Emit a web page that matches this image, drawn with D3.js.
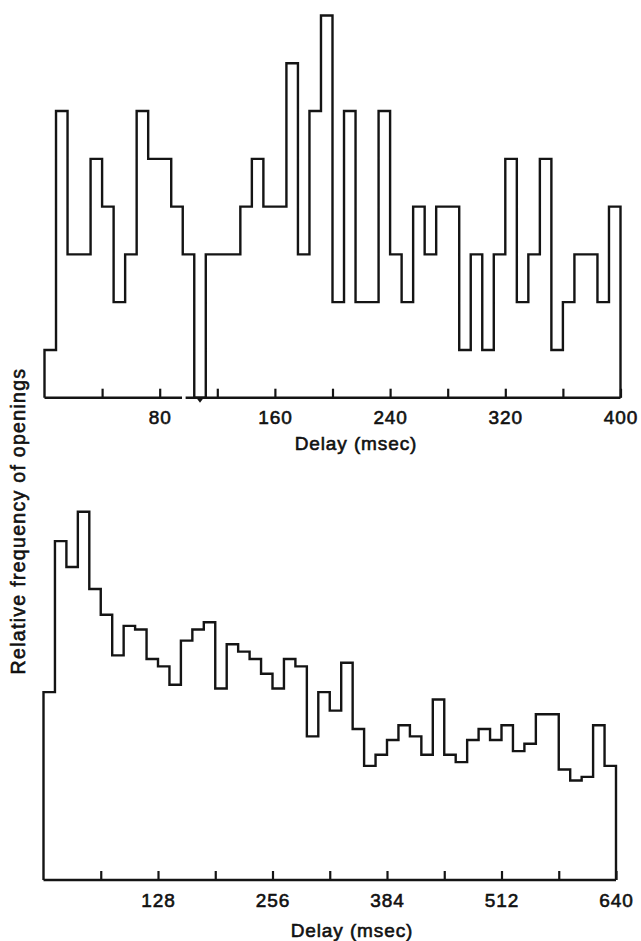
<!DOCTYPE html>
<html>
<head>
<meta charset="utf-8">
<script src="https://cdn.jsdelivr.net/npm/d3@7/dist/d3.min.js"></script>
<style>
  html, body { margin: 0; padding: 0; background: #fff; }
  svg { display: block; }
  text { font-family: "Liberation Sans", Arial, Helvetica, sans-serif; fill: #111; stroke: #111; stroke-width: 0.6px; }
</style>
</head>
<body>
<svg id="chart" width="641" height="941"></svg>
<script>
// ---------- DATA ----------
// Top histogram: 50 bins of 8 msec, 0–400 msec (relative counts)
const topBinWidth = 8;
const topCounts = [1, 6, 3, 3, 5, 4, 2, 3, 6, 5,
                   5, 4, 3, 0, 3, 3, 3, 4, 5, 4,
                   4, 7, 3, 6, 8, 2, 6, 2, 2, 6,
                   3, 2, 4, 3, 4, 4, 1, 3, 1, 3,
                   5, 2, 3, 5, 1, 2, 3, 3, 2, 4];
const topTicks = [40, 80, 120, 160, 200, 240, 280, 320, 360, 400];
const topTickLabels = [80, 160, 240, 320, 400];
const topAxisBreak = [95.5, 98];   // small break in the drawn baseline (msec)
const topZeroMarkBin = 13;         // bin marked by a small arrow under the axis

// Bottom histogram: 50 bins of 12.8 msec, 0–640 msec (relative frequency, max = 100)
const bottomBinWidth = 12.8;
const bottomValues = [51, 92, 85, 100, 79, 72, 61, 69, 68, 60,
                      58, 53, 65, 68, 70, 52, 64, 62, 60, 56,
                      52, 60, 58, 39, 51, 46, 59, 41, 31, 34,
                      38, 42, 39, 34, 49, 34, 32, 38, 41, 38,
                      42, 35, 37, 45, 45, 30, 27, 28, 42, 31];
const bottomTicks = [64, 128, 192, 256, 320, 384, 448, 512, 576, 640];
const bottomTickLabels = [128, 256, 384, 512, 640];

const xTitle = "Delay (msec)";
const yTitle = "Relative frequency of openings";

// ---------- DRAWING ----------
const svg = d3.select("#chart");
const ink = "#141414";

function stepPoints(values, w) {
  const pts = [{x: 0, y: 0}];
  values.forEach((v, i) => pts.push({x: i * w, y: v}));
  const end = values.length * w;
  pts.push({x: end, y: values[values.length - 1]});
  pts.push({x: end, y: 0});
  return pts;
}

function drawPanel(opt) {
  const x = d3.scaleLinear().domain(opt.xDomain).range(opt.xRange);
  const y = d3.scaleLinear().domain(opt.yDomain).range(opt.yRange);
  const g = svg.append("g");
  const base = y(0);

  // histogram outline
  const line = d3.line().x(d => x(d.x)).y(d => y(d.y)).curve(d3.curveStepAfter);
  g.append("path")
    .datum(stepPoints(opt.values, opt.binWidth))
    .attr("d", line)
    .attr("fill", "none")
    .attr("stroke", ink)
    .attr("stroke-width", 2.4)
    .attr("stroke-linejoin", "miter");

  // axis: ticks pointing up, labels only on every second tick
  const labelSet = new Set(opt.tickLabels);
  const axis = d3.axisBottom(x)
    .tickValues(opt.ticks)
    .tickSizeInner(-9)
    .tickSizeOuter(0)
    .tickPadding(opt.tickPadding)
    .tickFormat(d => labelSet.has(d) ? String(d) : "");
  const ag = g.append("g").attr("transform", `translate(0,${base})`).call(axis);
  ag.select(".domain").remove();
  ag.selectAll(".tick line").attr("stroke", ink).attr("stroke-width", 2.2);
  ag.selectAll(".tick text")
    .attr("font-size", 19)
    .attr("letter-spacing", "0.9px")
    .attr("fill", ink)
    .attr("font-family", null);

  // baseline (optionally with a small break)
  const segs = opt.axisBreak
    ? [[opt.xDomain[0], opt.axisBreak[0]], [opt.axisBreak[1], opt.xDomain[1]]]
    : [opt.xDomain];
  g.selectAll("line.base").data(segs).join("line")
    .attr("class", "base")
    .attr("x1", d => x(d[0])).attr("x2", d => x(d[1]))
    .attr("y1", base).attr("y2", base)
    .attr("stroke", ink).attr("stroke-width", 2.4);

  // small downward arrow under a zero bin
  if (opt.markBin != null) {
    const cx = x((opt.markBin + 0.5) * opt.binWidth);
    g.append("path")
      .attr("d", `M${cx - 3},${base + 1} L${cx + 3},${base + 1} L${cx},${base + 5} Z`)
      .attr("fill", ink);
  }

  // x title
  g.append("text")
    .attr("x", opt.titleX)
    .attr("y", opt.titleY)
    .attr("text-anchor", "middle")
    .attr("font-size", 19)
    .attr("letter-spacing", "0.9px")
    .text(xTitle);
  return {x, y};
}

drawPanel({
  values: topCounts, binWidth: topBinWidth,
  xDomain: [0, 400], xRange: [44.5, 620.5],
  yDomain: [0, 8], yRange: [397.7, 15.5],
  ticks: topTicks, tickLabels: topTickLabels, tickPadding: 12.8,
  axisBreak: topAxisBreak, markBin: topZeroMarkBin,
  titleX: 356, titleY: 450
});

drawPanel({
  values: bottomValues, binWidth: bottomBinWidth,
  xDomain: [0, 640], xRange: [43.5, 616],
  yDomain: [0, 100], yRange: [880, 511.7],
  ticks: bottomTicks, tickLabels: bottomTickLabels, tickPadding: 13.8,
  axisBreak: null, markBin: null,
  titleX: 352, titleY: 937
});

// y title
svg.append("text")
  .attr("transform", "translate(25,521) rotate(-90)")
  .attr("text-anchor", "middle")
  .attr("font-size", 19.5)
  .attr("letter-spacing", "1.3px")
  .text(yTitle);
</script>
</body>
</html>
